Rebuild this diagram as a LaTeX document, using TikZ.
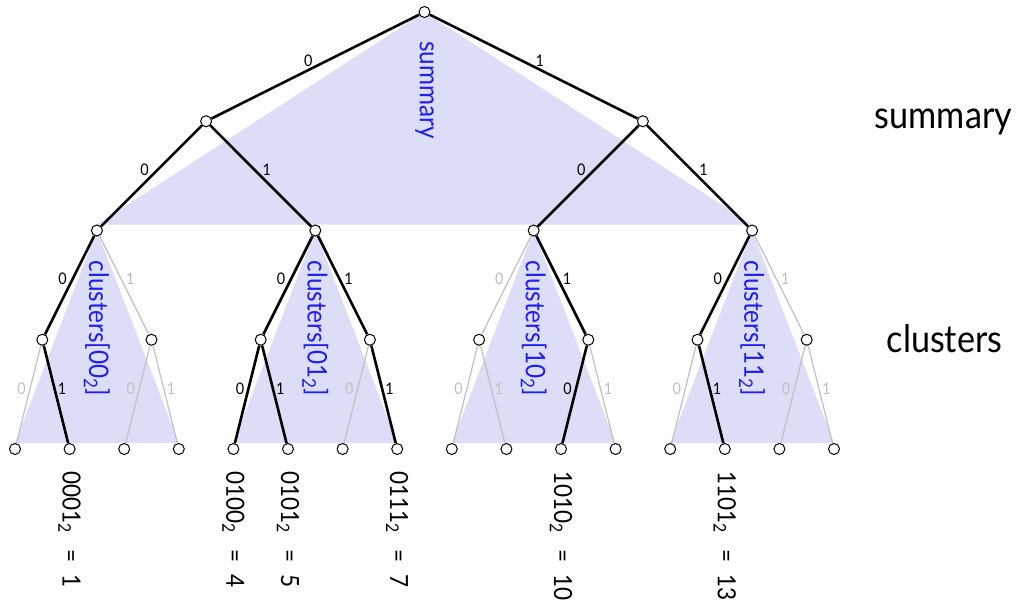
\documentclass[tikz,border=0pt]{standalone}
\usepackage{fontspec}
\setmainfont{Lato}[FakeStretch=0.9]
\usetikzlibrary{backgrounds}
\definecolor{shadecol}{RGB}{220,222,248}
\definecolor{bluetext}{RGB}{30,30,240}
\definecolor{grayedge}{RGB}{192,192,192}
\begin{document}
\begin{tikzpicture}[x=1pt,y=-1pt,
  vtx/.style={circle,draw=black,fill=white,line width=1pt,inner sep=0pt,minimum size=11pt},
  onedge/.style={black,line width=2.6pt},
  offedge/.style={grayedge,line width=1.2pt},
  lab0/.style={font=\fontsize{16}{19}\selectfont,xshift=-7pt,yshift=6pt,inner sep=0pt},
  lab1/.style={font=\fontsize{16}{19}\selectfont,xshift=6pt,yshift=6pt,inner sep=0pt},
  tri/.style={fill=shadecol},
  bluelab/.style={text=bluetext,font=\fontsize{27}{31}\selectfont,rotate=-90,anchor=west,inner sep=0pt},
  leaflab/.style={font=\fontsize{25}{29}\selectfont,rotate=-90,anchor=west,inner sep=0pt},
  sidelab/.style={font=\fontsize{38}{44}\selectfont,anchor=base,inner sep=0pt}]
\useasboundingbox (0,0) rectangle (1020,613);

% vertices
\foreach \d in {0,...,4} {
  \pgfmathtruncatemacro\n{2^\d-1}
  \foreach \k in {0,...,\n} {
    \pgfmathsetmacro\xx{15+54.6*((\k+0.5)*2^(4-\d)-0.5)}
    \pgfmathsetmacro\yy{12+109.25*\d}
    \node[vtx] (n-\d-\k) at (\xx,\yy) {};
  }
}

\begin{scope}[on background layer]
  % shaded triangles
  \fill[tri] (n-0-0.center) -- (n-2-0.north) -- (n-2-3.north) -- cycle;
  \foreach \k in {0,...,3} {
    \pgfmathtruncatemacro\a{4*\k}
    \pgfmathtruncatemacro\c{4*\k+3}
    \fill[tri] (n-2-\k.center) -- (n-4-\a.north) -- (n-4-\c.north) -- cycle;
  }
  % edges on paths to present elements
  \foreach \d/\k in {1/0,1/1,2/0,2/1,2/2,2/3,3/0,3/2,3/3,3/5,3/6,4/1,4/4,4/5,4/7,4/10,4/13} {
    \pgfmathtruncatemacro\p{\d-1}
    \pgfmathtruncatemacro\q{floor(\k/2)}
    \pgfmathtruncatemacro\b{mod(\k,2)}
    \draw[onedge] (n-\p-\q) -- node[lab\b]{\b} (n-\d-\k);
  }
  % empty edges
  \foreach \d/\k in {3/1,3/4,3/7,4/0,4/2,4/3,4/6,4/8,4/9,4/11,4/12,4/14,4/15} {
    \pgfmathtruncatemacro\p{\d-1}
    \pgfmathtruncatemacro\q{floor(\k/2)}
    \pgfmathtruncatemacro\b{mod(\k,2)}
    \draw[offedge] (n-\p-\q) -- node[lab\b]{\b} (n-\d-\k);
  }
\end{scope}

% blue labels
\node[bluelab] (sumlab) at ([yshift=-29pt]n-0-0.center) {summary};
\node[bluelab] (cl0) at ([yshift=-30pt]n-2-0.center) {clusters[00\textsubscript{2}]};
\node[bluelab] (cl1) at ([yshift=-30pt]n-2-1.center) {clusters[01\textsubscript{2}]};
\node[bluelab] (cl2) at ([yshift=-30pt]n-2-2.center) {clusters[10\textsubscript{2}]};
\node[bluelab] (cl3) at ([yshift=-30pt]n-2-3.center) {clusters[11\textsubscript{2}]};

% leaf labels
\node[leaflab] (lf1) at ([yshift=-22pt]n-4-1.center) {0001\textsubscript{2}\hspace{16pt}=\hspace{12pt}1};
\node[leaflab] (lf4) at ([yshift=-22pt]n-4-4.center) {0100\textsubscript{2}\hspace{16pt}=\hspace{12pt}4};
\node[leaflab] (lf5) at ([yshift=-22pt]n-4-5.center) {0101\textsubscript{2}\hspace{16pt}=\hspace{12pt}5};
\node[leaflab] (lf7) at ([yshift=-22pt]n-4-7.center) {0111\textsubscript{2}\hspace{16pt}=\hspace{12pt}7};
\node[leaflab] (lf10) at ([yshift=-22pt]n-4-10.center) {1010\textsubscript{2}\hspace{16pt}=\hspace{12pt}10};
\node[leaflab] (lf13) at ([yshift=-22pt]n-4-13.center) {1101\textsubscript{2}\hspace{16pt}=\hspace{12pt}13};

% side labels
\node[sidelab] (sumside) at (943.5,128) {summary};
\node[sidelab] (clside) at (944.5,352) {clusters};
\end{tikzpicture}
\end{document}
